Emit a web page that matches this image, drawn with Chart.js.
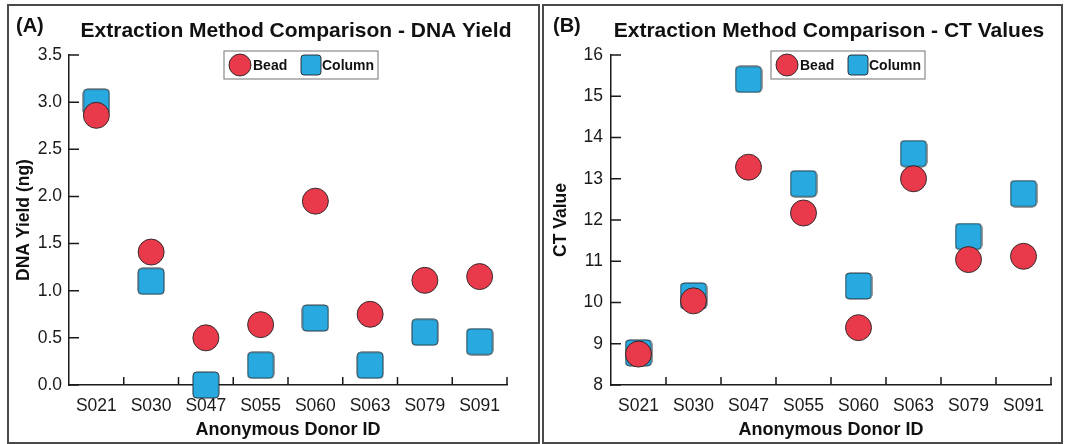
<!DOCTYPE html>
<html>
<head>
<meta charset="utf-8">
<script src="https://cdn.jsdelivr.net/npm/chart.js@4.4.1/dist/chart.umd.min.js"></script>
<style>
  html, body { margin: 0; padding: 0; background: #fff; }
  body { width: 1066px; height: 444px; position: relative; overflow: hidden; }
  .panel { position: absolute; top: 0; height: 444px; }
  .frame { position: absolute; border: 2px solid #4a4a4a; box-sizing: border-box; pointer-events: none; }
</style>
</head>
<body>
<div class="panel" style="left:0; width:540px;"><canvas id="yieldChart"></canvas></div>
<div class="panel" style="left:540px; width:526px;"><canvas id="ctChart"></canvas></div>
<div class="frame" style="left:7px; top:4px; width:533px; height:440px;"></div>
<div class="frame" style="left:542px; top:4px; width:521px; height:440px;"></div>

<script>
const donors = ['S021', 'S030', 'S047', 'S055', 'S060', 'S063', 'S079', 'S091'];

// DNA yield (ng)
const yieldBead   = [2.86, 1.41, 0.50, 0.64, 1.95, 0.75, 1.11, 1.15];
const yieldColumn = [3.00, 1.10, 0.00, 0.21, 0.71, 0.21, 0.56, 0.46];
const yieldTicks  = [0, 0.5, 1.0, 1.5, 2.0, 2.5, 3.0, 3.5];

// CT values
const ctBead   = [8.75, 10.04, 13.28, 12.17, 9.39, 13.00, 11.04, 11.12];
const ctColumn = [8.78, 10.16, 15.41, 12.88, 10.40, 13.61, 11.60, 12.64];
const ctTicks  = [8, 9, 10, 11, 12, 13, 14, 15, 16];

const RED = '#e83a4b';
const BLUE = '#28a9e0';
const EDGE = 'rgba(35,35,35,0.9)';
const FONT = '"Liberation Sans", Arial, Helvetica, sans-serif';

function roundedSquare(size, fill, stroke) {
  const c = document.createElement('canvas');
  c.width = size + 2;
  c.height = size + 2;
  const g = c.getContext('2d');
  g.beginPath();
  g.roundRect(1, 1, size, size, size * 0.15);
  g.fillStyle = fill;
  g.fill();
  g.lineWidth = 1;
  g.strokeStyle = stroke;
  g.stroke();
  return c;
}

const squareMark = roundedSquare(26, BLUE, EDGE);
const squareKey = roundedSquare(20, BLUE, EDGE);

// inward tick marks, panel letter, heading and boxed legend
const panelDecor = {
  id: 'panelDecor',
  beforeDatasetsDraw(chart) {
    const { ctx, chartArea } = chart;
    const x = chart.scales.x, y = chart.scales.y;
    ctx.save();
    ctx.strokeStyle = '#1a1a1a';
    ctx.lineWidth = 1.5;
    ctx.beginPath();
    y.ticks.forEach((t, i) => {
      const py = y.getPixelForTick(i);
      ctx.moveTo(chartArea.left, py);
      ctx.lineTo(chartArea.left + 10, py);
    });
    const n = x.ticks.length;
    for (let i = 1; i <= n; i++) {
      const px = x.left + i * x.width / n;
      ctx.moveTo(px, chartArea.bottom);
      ctx.lineTo(px, chartArea.bottom - 8);
    }
    ctx.stroke();
    ctx.restore();
  },
  afterDraw(chart, args, opts) {
    const { ctx, chartArea } = chart;
    ctx.save();
    ctx.fillStyle = '#111';
    ctx.textBaseline = 'alphabetic';
    ctx.font = 'bold 20px ' + FONT;
    ctx.textAlign = 'left';
    ctx.fillText(opts.letter, opts.letterX, 32);
    ctx.font = 'bold 21px ' + FONT;
    ctx.textAlign = 'center';
    ctx.fillText(opts.heading, (chartArea.left + chartArea.right) / 2 + opts.headingShift, 37);

    // legend box
    const w = 154, h = 28;
    const cx = (chartArea.left + chartArea.right) / 2 + opts.legendShift;
    const bx = cx - w / 2, by = 51;
    ctx.fillStyle = '#fff';
    ctx.fillRect(bx, by, w, h);
    ctx.strokeStyle = '#8a8a8a';
    ctx.lineWidth = 1.2;
    ctx.strokeRect(bx, by, w, h);

    ctx.font = 'bold 14px ' + FONT;
    ctx.textAlign = 'left';
    ctx.textBaseline = 'middle';
    const my = by + h / 2;
    chart.data.datasets.forEach((ds, i) => {
      const ox = bx + (i === 0 ? 5 : 76);
      if (ds.pointStyle === 'circle') {
        ctx.beginPath();
        ctx.arc(ox + 11, my, 11, 0, Math.PI * 2);
        ctx.fillStyle = ds.backgroundColor;
        ctx.fill();
        ctx.lineWidth = 1;
        ctx.strokeStyle = EDGE;
        ctx.stroke();
      } else {
        ctx.drawImage(squareKey, ox, my - squareKey.height / 2);
      }
      ctx.fillStyle = '#111';
      ctx.fillText(ds.label, ox + (i === 0 ? 24 : 22), my + 1);
    });
    ctx.restore();
  }
};

function buildChart(id, beadVals, columnVals, tickVals, opt) {
  const ctx = document.getElementById(id).getContext('2d');
  // dataset 0 is painted last, so Bead sits on top of Column
  return new Chart(ctx, {
    type: 'line',
    data: {
      labels: donors,
      datasets: [
        {
          label: 'Bead',
          data: beadVals,
          showLine: false,
          pointStyle: 'circle',
          pointRadius: 13,
          pointBorderWidth: 1,
          pointBackgroundColor: RED,
          pointBorderColor: EDGE,
          backgroundColor: RED,
          clip: false
        },
        {
          label: 'Column',
          data: columnVals,
          showLine: false,
          pointStyle: squareMark,
          pointRadius: 14,
          backgroundColor: BLUE,
          clip: false
        }
      ]
    },
    options: {
      responsive: true,
      maintainAspectRatio: false,
      animation: false,
      events: [],
      layout: { padding: { top: 55, right: opt.padRight, left: 0, bottom: 0 } },
      scales: {
        x: {
          type: 'category',
          offset: true,
          grid: { display: false, drawTicks: false },
          border: { color: '#1a1a1a', width: 1.5 },
          ticks: { color: '#1a1a1a', padding: 11, font: { family: FONT, size: 17.5 }, maxRotation: 0 },
          title: {
            display: true,
            text: 'Anonymous Donor ID',
            color: '#111',
            font: { family: FONT, size: 18, weight: 'bold' },
            padding: { top: 0, bottom: 3 }
          },
          afterFit(scale) { scale.height = 59; }
        },
        y: {
          min: tickVals[0],
          max: tickVals[tickVals.length - 1],
          grid: { display: false, drawTicks: false },
          border: { color: '#1a1a1a', width: 1.5 },
          afterBuildTicks(scale) { scale.ticks = tickVals.map(v => ({ value: v })); },
          ticks: {
            color: '#1a1a1a',
            padding: opt.tickPad,
            font: { family: FONT, size: 17.5 },
            callback: opt.fmt
          },
          title: {
            display: true,
            text: opt.yTitle,
            color: '#111',
            font: { family: FONT, size: 17.5, weight: 'bold' },
            padding: { top: opt.yTitlePad, bottom: 0 }
          },
          afterFit(scale) { scale.width = opt.yWidth; }
        }
      },
      plugins: {
        legend: { display: false },
        tooltip: { enabled: false },
        panelDecor: {
          letter: opt.letter,
          letterX: opt.letterX,
          heading: opt.heading,
          headingShift: opt.headingShift,
          legendShift: opt.legendShift
        }
      }
    },
    plugins: [panelDecor]
  });
}

buildChart('yieldChart', yieldBead, yieldColumn, yieldTicks, {
  padRight: 33,
  yWidth: 69,
  tickPad: 7,
  yTitlePad: 14,
  yTitle: 'DNA Yield (ng)',
  fmt: v => Number(v).toFixed(1),
  letter: '(A)',
  letterX: 16,
  heading: 'Extraction Method Comparison - DNA Yield',
  headingShift: 8,
  legendShift: 13
});

buildChart('ctChart', ctBead, ctColumn, ctTicks, {
  padRight: 15,
  yWidth: 71,
  tickPad: 8,
  yTitlePad: 11,
  yTitle: 'CT Value',
  fmt: v => String(v),
  letter: '(B)',
  letterX: 13,
  heading: 'Extraction Method Comparison - CT Values',
  headingShift: -2,
  legendShift: 17
});
</script>
</body>
</html>
